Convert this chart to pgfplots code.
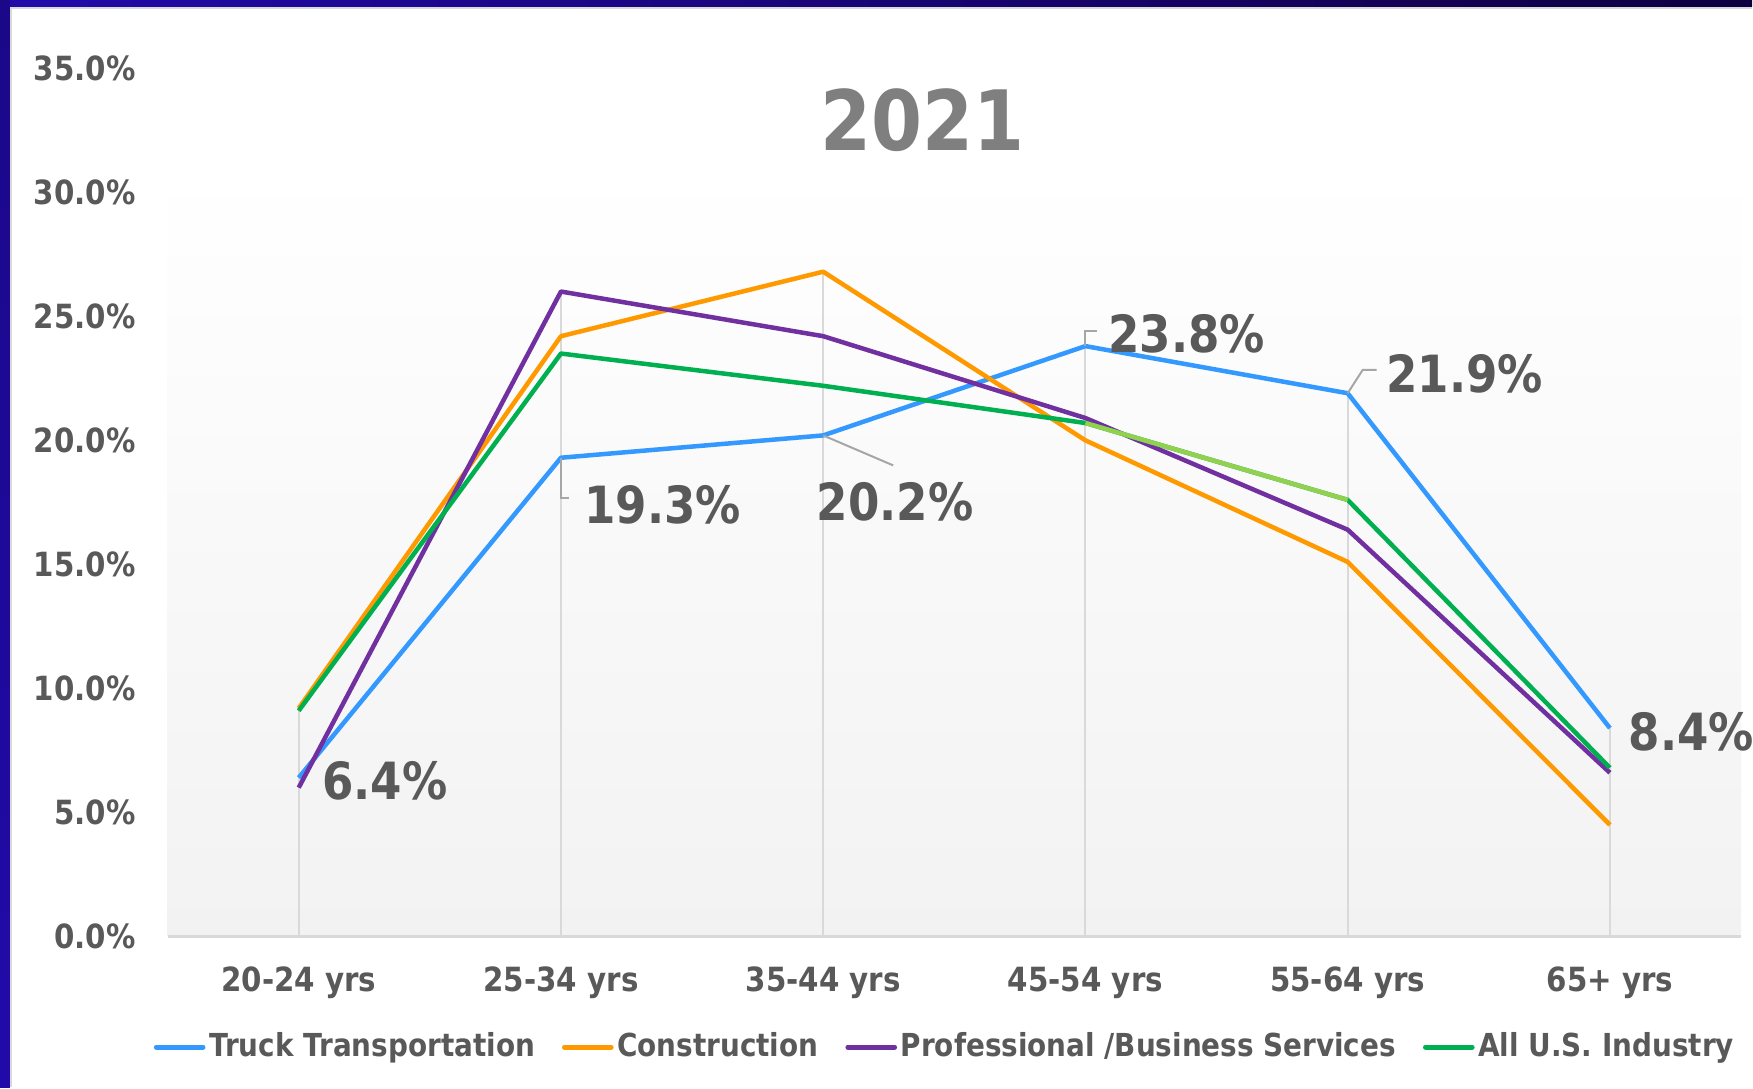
\documentclass[border=0pt]{standalone}
\usepackage{pgfplots}
\pgfplotsset{compat=1.18}
\usepackage{fontspec}
\setmainfont{DejaVu Sans}[FakeStretch=0.88]
\definecolor{cTruck}{RGB}{51,153,255}
\definecolor{cCons}{RGB}{255,153,0}
\definecolor{cProf}{RGB}{112,48,160}
\definecolor{cAll}{RGB}{0,176,80}
\definecolor{cAllL}{RGB}{146,208,80}
\definecolor{txt}{RGB}{89,89,89}
\definecolor{ttl}{RGB}{127,127,127}
\definecolor{grid}{RGB}{217,217,217}
\definecolor{lead}{RGB}{166,166,166}
\definecolor{bgL}{RGB}{34,10,170}
\definecolor{bgR}{RGB}{14,0,64}
\begin{document}
\begin{tikzpicture}
% outer frame
\fill[white] (-50.31pt,-45.3pt) rectangle (475.59pt,281.1pt);
\shade[left color=bgL, right color=bgR] (-50.31pt,279.0pt) rectangle (475.59pt,281.1pt);
\shade[top color=bgL!80!black, bottom color=bgL] (-50.31pt,-45.3pt) rectangle (-47.31pt,281.1pt);
\draw[grid, line width=0.6pt] (-47.0pt,-45.3pt) -- (-47.0pt,278.7pt) -- (475.59pt,278.7pt);
\useasboundingbox (-50.31pt,-45.3pt) rectangle (475.59pt,281.1pt);
% plot area gradient
\shade[top color=white, bottom color={rgb,255:red,242;green,242;blue,242}] (0pt,0pt) rectangle (472.3pt,230.8pt);
\begin{axis}[
  at={(0pt,0pt)}, anchor=south west,
  scale only axis, width=472.3pt, height=260.6pt,
  xmin=-0.5, xmax=5.5, ymin=0, ymax=35,
  clip=false,
  axis x line*=bottom, axis y line*=left,
  every outer x axis line/.append style={-},
  every outer y axis line/.append style={-},
  x axis line style={draw=grid, line width=0.7pt},
  y axis line style={draw=none},
  major tick length=0pt,
  xtick={0,1,2,3,4,5},
  xticklabels={20-24 yrs,25-34 yrs,35-44 yrs,45-54 yrs,55-64 yrs,65+ yrs},
  ytick={0,5,10,15,20,25,30,35},
  yticklabels={0.0\%,5.0\%,10.0\%,15.0\%,20.0\%,25.0\%,30.0\%,35.0\%},
  xticklabel style={font=\fontsize{10}{12}\selectfont\bfseries, text=txt, anchor=base, inner sep=0pt, yshift=-16.4pt},
  yticklabel style={font=\fontsize{10}{12}\selectfont\bfseries, text=txt, anchor=east, inner sep=0pt, xshift=-9.4pt},
  legend columns=-1,
  legend style={at={(0.494,-0.1274)}, anchor=center, draw=none, fill=none,
    font=\fontsize{9.5}{11}\selectfont\bfseries, text=txt,
    /tikz/every even column/.append style={column sep=7.5pt},
    /tikz/every odd column/.append style={column sep=0.5pt},
    nodes={inner sep=0.6pt}},
  legend image code/.code={\draw[#1, line width=1.5pt, line cap=round] (0pt,0pt) -- (14pt,0pt);},
  every axis plot/.append style={line width=1.35pt, line join=round, no marks},
]
% drop lines
\addplot[ycomb, draw=grid, line width=0.6pt, forget plot] coordinates {(0,9.2) (1,26.0) (2,26.8) (3,23.8) (4,21.9) (5,8.4)};
\addplot[cTruck] coordinates {(0,6.4) (1,19.3) (2,20.2) (3,23.8) (4,21.9) (5,8.4)};
\addlegendentry{Truck Transportation}
\addplot[cCons] coordinates {(0,9.2) (1,24.2) (2,26.8) (3,20.0) (4,15.1) (5,4.5)};
\addlegendentry{Construction}
\addplot[cProf] coordinates {(0,6.0) (1,26.0) (2,24.2) (3,20.9) (4,16.4) (5,6.6)};
\addlegendentry{Professional /Business Services}
\addplot[cAll] coordinates {(0,9.1) (1,23.5) (2,22.2) (3,20.7) (4,17.6) (5,6.8)};
\addlegendentry{All U.S. Industry}
\addplot[cAllL, forget plot] coordinates {(3,20.7) (4,17.6)};
% leader lines
\draw[lead, line width=0.6pt] (axis cs:1,19.3) -- ++(0pt,-12pt) -- ++(2.4pt,0pt);
\draw[lead, line width=0.6pt] (axis cs:2,20.2) -- ++(21pt,-9pt);
\draw[lead, line width=0.6pt] (axis cs:3,23.8) -- ++(0pt,4.5pt) -- ++(3.6pt,0pt);
\draw[lead, line width=0.6pt] (axis cs:4,21.9) -- ++(4.5pt,7pt) -- ++(4.2pt,0pt);
% data labels
\begin{scope}[every node/.style={font=\fontsize{15.4}{17}\selectfont\bfseries, text=txt, inner sep=0pt, anchor=west}]
\node[xshift=6.8pt, yshift=-0.9pt] at (axis cs:0,6.4) {6.4\%};
\node[xshift=6.8pt, yshift=-14.1pt] at (axis cs:1,19.3) {19.3\%};
\node[xshift=-2.1pt, yshift=-19.8pt] at (axis cs:2,20.2) {20.2\%};
\node[xshift=6.7pt, yshift=3.75pt] at (axis cs:3,23.8) {23.8\%};
\node[xshift=11.4pt, yshift=5.7pt] at (axis cs:4,21.9) {21.9\%};
\node[xshift=5.4pt, yshift=-1.2pt] at (axis cs:5,8.4) {8.4\%};
\end{scope}
\end{axis}
\node[font=\fontsize{25}{28}\selectfont\bfseries, text=ttl, inner sep=0pt] at (226.7pt,244.9pt) {2021};
\end{tikzpicture}
\end{document}
